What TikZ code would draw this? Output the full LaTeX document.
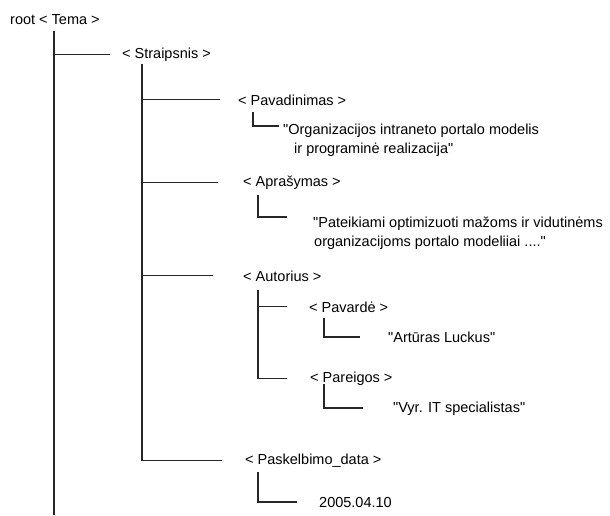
\documentclass[tikz,border=0pt]{standalone}
\usepackage{fontspec}
\setmainfont{Liberation Sans}[Ligatures=TeXOff]
\begin{document}
\begin{tikzpicture}[x=1pt,y=-1pt,
  lbl/.style={anchor=base west,inner sep=0pt,font=\fontsize{14.5}{18.5}\selectfont},
  val/.style={lbl,align=left},
  branch/.style={line width=1.1pt,draw=black!85}]
\useasboundingbox (0,0) rectangle (610,515);

% element and value labels (two-line values sit on their last baseline)
\node[lbl] (root) at (10,24) {root < Tema >};
\node[lbl] (straipsnis) at (122,58) {< Straipsnis >};
\node[lbl] (pavadinimas) at (238,105) {< Pavadinimas >};
\node[val] (pavval) at (283,153) {"Organizacijos intraneto portalo modelis\\\hspace*{11pt}ir programinė realizacija"};
\node[lbl] (aprasymas) at (243,186) {< Aprašymas >};
\node[val] (aprval) at (313,246) {"Pateikiami optimizuoti mažoms ir vidutinėms\\\hspace*{1pt}organizacijoms portalo modeliiai ...."};
\node[lbl] (autorius) at (243,281) {< Autorius >};
\node[lbl] (pavarde) at (309,312) {< Pavardė >};
\node[lbl] (pavardeval) at (388,342) {"Artūras Luckus"};
\node[lbl] (pareigos) at (310,382) {< Pareigos >};
\node[lbl] (pareigosval) at (393,412) {"Vyr. IT specialistas"};
\node[lbl] (data) at (245,464) {< Paskelbimo\_data >};
\node[lbl] (dataval) at (319,507) {2005.04.10};

% free ends of the tree lines
\coordinate (rootTop) at (54,31);
\coordinate (rootEnd) at (54,515);
\coordinate (strTop) at (142,64);
\coordinate (autTop) at (258,290);

% root trunk
\draw[branch] (rootTop) -- (rootEnd);
\draw[branch] (rootTop |- straipsnis.west) -- ++(56,0);

% Straipsnis trunk and its children
\draw[branch] (strTop) -- (strTop |- data.west) -- ++(80,0);
\draw[branch] (strTop |- pavadinimas.west) -- ++(78,0);
\draw[branch] (strTop |- aprasymas.west) -- ++(76,0);
\draw[branch] (strTop |- autorius.west) -- ++(71,0);

% leaf values
\draw[branch] (253,112) |- ++(26,14);
\draw[branch] (258,195) |- ++(29,22);
\draw[branch] (324,318) |- ++(36,19);
\draw[branch] (324,384) |- ++(39,24);
\draw[branch] (258,472) |- ++(39,30);

% Autorius trunk
\draw[branch] (autTop) -- (autTop |- pareigos.west) -- ++(29,0);
\draw[branch] (autTop |- pavarde.west) -- ++(29,0);
\end{tikzpicture}
\end{document}
